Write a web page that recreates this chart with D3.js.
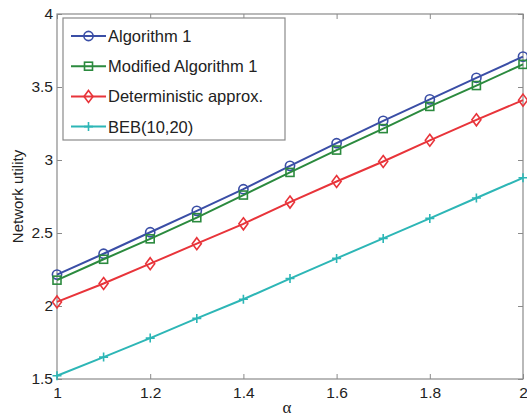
<!DOCTYPE html>
<html>
<head>
<meta charset="utf-8">
<script src="https://cdn.jsdelivr.net/npm/d3@7/dist/d3.min.js"></script>
<style>
  html, body { margin: 0; padding: 0; background: #fff; }
  svg { display: block; font-family: "Liberation Sans", Arial, Helvetica, sans-serif; }
</style>
</head>
<body>
<svg id="chart" width="527" height="417"></svg>
<script>
// α values along the x axis
const alpha = [1.0, 1.1, 1.2, 1.3, 1.4, 1.5, 1.6, 1.7, 1.8, 1.9, 2.0];

// Network utility for each scheme
const algorithm1 = [2.215, 2.358, 2.505, 2.652, 2.800, 2.960, 3.115, 3.268, 3.415, 3.563, 3.708];
const modifiedAlgorithm1 = [2.177, 2.320, 2.460, 2.605, 2.760, 2.915, 3.068, 3.215, 3.367, 3.510, 3.655];
const deterministicApprox = [2.028, 2.154, 2.290, 2.427, 2.563, 2.712, 2.853, 2.990, 3.135, 3.275, 3.410];
const beb = [1.522, 1.650, 1.780, 1.915, 2.046, 2.188, 2.326, 2.463, 2.600, 2.740, 2.878];

const seriesNames = ["Algorithm 1", "Modified Algorithm 1", "Deterministic approx.", "BEB(10,20)"];
const xTicks = [1, 1.2, 1.4, 1.6, 1.8, 2];
const yTicks = [1.5, 2, 2.5, 3, 3.5, 4];

const series = [
  { name: seriesNames[0], values: algorithm1, color: "#3a4ea6", marker: "circle" },
  { name: seriesNames[1], values: modifiedAlgorithm1, color: "#2b8a3e", marker: "square" },
  { name: seriesNames[2], values: deterministicApprox, color: "#e8343a", marker: "diamond" },
  { name: seriesNames[3], values: beb, color: "#2db6b6", marker: "plus" }
];

const svg = d3.select("#chart");
const plot = { left: 57, right: 523, top: 14, bottom: 379 };

const x = d3.scaleLinear().domain([1, 2]).range([plot.left, plot.right]);
const y = d3.scaleLinear().domain([1.5, 4]).range([plot.bottom, plot.top]);

const axisColor = "#8a8a8a";
const textColor = "#222";
const tickLen = 5;

// Box around the plotting area
svg.append("rect")
  .attr("x", plot.left).attr("y", plot.top)
  .attr("width", plot.right - plot.left).attr("height", plot.bottom - plot.top)
  .attr("fill", "none").attr("stroke", axisColor).attr("stroke-width", 1.2);

// Axes with inward ticks on all four sides
function styleAxis(g) {
  g.select(".domain").remove();
  g.selectAll(".tick line").attr("stroke", axisColor).attr("stroke-width", 1);
  g.selectAll(".tick text").attr("fill", textColor).style("font-size", "15.5px");
}

svg.append("g")
  .attr("transform", `translate(0,${plot.bottom})`)
  .call(d3.axisBottom(x).tickValues(xTicks).tickFormat(d3.format("")).tickSizeInner(-tickLen).tickSizeOuter(0).tickPadding(8))
  .call(styleAxis);

svg.append("g")
  .attr("transform", `translate(0,${plot.top})`)
  .call(d3.axisTop(x).tickValues(xTicks).tickFormat("").tickSizeInner(-tickLen).tickSizeOuter(0))
  .call(styleAxis);

svg.append("g")
  .attr("transform", `translate(${plot.left},0)`)
  .call(d3.axisLeft(y).tickValues(yTicks).tickFormat(d3.format("")).tickSizeInner(-tickLen).tickSizeOuter(0).tickPadding(4))
  .call(styleAxis);

svg.append("g")
  .attr("transform", `translate(${plot.right},0)`)
  .call(d3.axisRight(y).tickValues(yTicks).tickFormat("").tickSizeInner(-tickLen).tickSizeOuter(0))
  .call(styleAxis);

// Axis titles
svg.append("text")
  .attr("x", 287).attr("y", 413)
  .attr("text-anchor", "middle").attr("fill", textColor)
  .style("font-family", "'Liberation Serif', 'Times New Roman', serif")
  .style("font-size", "17px").text("α");

svg.append("text")
  .attr("transform", `translate(23,${(plot.top + plot.bottom) / 2}) rotate(-90)`)
  .attr("text-anchor", "middle").attr("fill", textColor)
  .style("font-size", "15px").text("Network utility");

// Marker shapes
function drawMarker(g, type, cx, cy, color) {
  if (type === "circle") {
    g.append("circle").attr("cx", cx).attr("cy", cy).attr("r", 4.6)
      .attr("fill", "none").attr("stroke", color).attr("stroke-width", 1.6);
  } else if (type === "square") {
    g.append("rect").attr("x", cx - 4).attr("y", cy - 4).attr("width", 8).attr("height", 8)
      .attr("fill", "none").attr("stroke", color).attr("stroke-width", 1.6);
  } else if (type === "diamond") {
    g.append("path")
      .attr("d", `M${cx},${cy - 6}L${cx + 4.5},${cy}L${cx},${cy + 6}L${cx - 4.5},${cy}Z`)
      .attr("fill", "none").attr("stroke", color).attr("stroke-width", 1.6);
  } else if (type === "plus") {
    g.append("path")
      .attr("d", `M${cx - 4.5},${cy}H${cx + 4.5}M${cx},${cy - 4.5}V${cy + 4.5}`)
      .attr("fill", "none").attr("stroke", color).attr("stroke-width", 1.6);
  }
}

// Data lines and markers
const line = d3.line().x((d, i) => x(alpha[i])).y(d => y(d));

series.forEach(s => {
  const g = svg.append("g");
  g.append("path").datum(s.values).attr("d", line)
    .attr("fill", "none").attr("stroke", s.color).attr("stroke-width", 2);
  s.values.forEach((v, i) => drawMarker(g, s.marker, x(alpha[i]), y(v), s.color));
});

// Legend
const legend = { x: 63, y: 18, w: 222, h: 122, rowGap: 30.2, firstRow: 36 };
svg.append("rect")
  .attr("x", legend.x).attr("y", legend.y).attr("width", legend.w).attr("height", legend.h)
  .attr("fill", "#fff").attr("stroke", axisColor).attr("stroke-width", 1.2);

series.forEach((s, i) => {
  const ly = legend.firstRow + i * legend.rowGap;
  const g = svg.append("g");
  g.append("line").attr("x1", 71).attr("x2", 106).attr("y1", ly).attr("y2", ly)
    .attr("stroke", s.color).attr("stroke-width", 2);
  drawMarker(g, s.marker, 88.5, ly, s.color);
  g.append("text").attr("x", 108).attr("y", ly + 6)
    .attr("fill", textColor).style("font-size", "16.5px").text(s.name);
});
</script>
</body>
</html>
